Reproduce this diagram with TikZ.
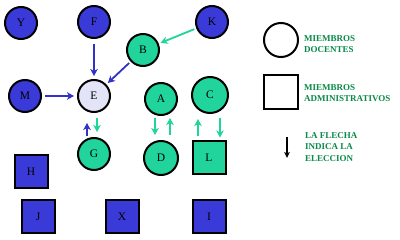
\documentclass[tikz,border=0pt]{standalone}
\usepackage{fontspec}
\setmainfont{Liberation Serif}
\usetikzlibrary{arrows.meta}
\definecolor{nblue}{RGB}{58,58,216}
\definecolor{ngreen}{RGB}{32,212,155}
\definecolor{nlav}{RGB}{228,228,248}
\definecolor{ablue}{RGB}{50,50,200}
\definecolor{tgreen}{RGB}{10,138,74}
\begin{document}
\begin{tikzpicture}[x=1pt,y=-1pt,
  mem/.style={draw=black,line width=2pt,minimum size=32pt,inner sep=0pt,font=\fontsize{11.5}{11.5}\selectfont},
  doc/.style={mem,circle},
  adm/.style={mem,rectangle,minimum size=33pt},
  bluen/.style={fill=nblue},
  greenn/.style={fill=ngreen},
  barrow/.style={draw=ablue,line width=1.8pt,-{Stealth[length=7pt,width=7.5pt,inset=2pt]}},
  garrow/.style={draw=ngreen,line width=1.8pt,-{Stealth[length=7pt,width=7.5pt,inset=2pt]}},
  legtext/.style={anchor=west,align=left,text=tgreen,inner sep=0pt,font=\bfseries\fontsize{9}{11.5}\selectfont}
]
\fill[white] (0,0) rectangle (400,240);
\useasboundingbox (0,0) rectangle (400,240);
% docentes
\node[doc,bluen] (Y) at (21,23) {Y};
\node[doc,bluen] (F) at (94,22) {F};
\node[doc,bluen] (K) at (212,22) {K};
\node[doc,greenn] (B) at (143,50) {B};
\node[doc,bluen] (M) at (25,96) {M};
\node[doc,fill=nlav] (E) at (94,96) {E};
\node[doc,greenn] (A) at (161,99) {A};
\node[doc,greenn,minimum size=36pt] (C) at (210,95) {C};
\node[doc,greenn] (G) at (94,154) {G};
\node[doc,greenn,minimum size=34pt] (D) at (161,158) {D};
% administrativos
\node[adm,greenn] (L) at (209,158) {L};
\node[adm,bluen] (H) at (31,172) {H};
\node[adm,bluen] (J) at (38,217) {J};
\node[adm,bluen] (X) at (122,217) {X};
\node[adm,bluen] (I) at (209,217) {I};
% arrows
\draw[barrow,shorten <=5pt,shorten >=3pt] (F) -- (E);
\draw[barrow,shorten <=3pt,shorten >=3pt] (M) -- (E);
\draw[barrow,shorten <=2pt,shorten >=2pt] (B) -- (E);
\draw[garrow,shorten <=2pt,shorten >=2pt] (K) -- (B);
\draw[barrow,shorten <=1pt,shorten >=10pt] ([xshift=-7pt]G.north) -- ([xshift=-7pt]G.north |- E.south);
\draw[garrow,shorten <=5pt,shorten >=5pt] ([xshift=3pt]E.south) -- ([xshift=3pt]E.south |- G.north);
\draw[garrow,shorten <=2pt,shorten >=5pt] ([xshift=-6pt]A.south) -- ([xshift=-6pt]A.south |- D.north);
\draw[garrow,shorten <=5pt,shorten >=2pt] ([xshift=9pt]D.north) -- ([xshift=9pt]D.north |- A.south);
\draw[garrow,shorten <=4pt,shorten >=5pt] ([xshift=-11pt]L.north) -- ([xshift=-11pt]L.north |- C.south);
\draw[garrow,shorten <=4pt,shorten >=3pt] ([xshift=10pt]C.south) -- ([xshift=10pt]C.south |- L.north);
% legend
\node[doc,minimum size=34pt] (lc) at (281,40) {};
\node[adm,minimum size=34pt] (ls) at (281,92) {};
\node[legtext] (t1) at (304,44) {MIEMBROS\\DOCENTES};
\node[legtext] (t2) at (304,93) {MIEMBROS\\ADMINISTRATIVOS};
\node[legtext] (t3) at (305,147) {LA FLECHA\\INDICA LA\\ELECCION};
\coordinate (la1) at (287,137);
\coordinate (la2) at (287,158);
\draw[line width=1.5pt,-{Stealth[length=6pt,width=5.5pt,inset=1.5pt]}] (la1) -- (la2);
\end{tikzpicture}
\end{document}
